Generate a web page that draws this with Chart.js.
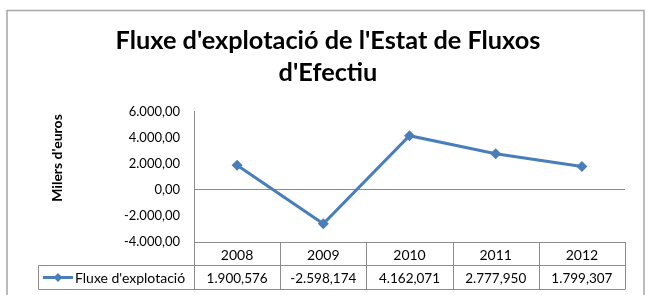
<!DOCTYPE html>
<html>
<head>
<meta charset="utf-8">
<script src="https://cdn.jsdelivr.net/npm/chart.js@4.4.0/dist/chart.umd.min.js"></script>
<style>
  html, body { margin: 0; padding: 0; background: #fff; }
</style>
</head>
<body>
<canvas id="myChart" width="656" height="295"></canvas>
<script>
// donnees du graphique
const years = ["2008", "2009", "2010", "2011", "2012"];
const fluxe = [1900.576, -2598.174, 4162.071, 2777.950, 1799.307];
const serieName = "Fluxe d'explotació";
const titleLines = ["Fluxe d'explotació de l'Estat de Fluxos", "d'Efectiu"];
const axisTitle = "Milers d'euros";
const yTicks = [-4000, -2000, 0, 2000, 4000, 6000];

const blue = "#4a7ebb";
const lineGray = "#8c8c8c";
const family = "Lato, 'Open Sans', sans-serif";

// format europeen 1.900,576
function fmt(v, dec) {
  let s = Math.abs(v).toFixed(dec);
  let parts = s.split(".");
  let ent = parts[0].replace(/\B(?=(\d{3})+(?!\d))/g, ".");
  return (v < 0 ? "-" : "") + ent + (dec > 0 ? "," + parts[1] : "");
}

function diamond(c, x, y, r) {
  c.beginPath();
  c.moveTo(x, y - r);
  c.lineTo(x + r, y);
  c.lineTo(x, y + r);
  c.lineTo(x - r, y);
  c.closePath();
  c.fill();
}

// cadre + titre de l'axe + tableau de donnees sous le graphique
const tablePlugin = {
  id: "tablePlugin",
  beforeDraw(chart) {
    const c = chart.ctx;
    c.save();
    c.fillStyle = "#fff";
    c.fillRect(0, 0, chart.width, chart.height);
    c.strokeStyle = "#a6a6a6";
    c.lineWidth = 1.5;
    c.strokeRect(7, 10.5, 637, 320);
    c.restore();
  },
  afterDraw(chart) {
    const c = chart.ctx;
    const area = chart.chartArea;
    const n = years.length;
    const colW = (area.right - area.left) / n;
    const top = Math.round(area.bottom) + 0.5;
    const mid = top + 23;
    const bot = top + 47;
    const legLeft = 38.5;

    c.save();
    c.strokeStyle = lineGray;
    c.lineWidth = 1;
    c.beginPath();
    c.moveTo(area.left, top); c.lineTo(area.right, top);
    c.moveTo(legLeft, mid); c.lineTo(area.right, mid);
    c.moveTo(legLeft, bot); c.lineTo(area.right, bot);
    c.moveTo(legLeft, mid); c.lineTo(legLeft, bot);
    for (let i = 0; i <= n; i++) {
      const x = Math.round(area.left + i * colW) + 0.5;
      c.moveTo(x, area.bottom); c.lineTo(x, bot);
    }
    c.stroke();

    // textes du tableau
    c.fillStyle = "#000";
    c.textAlign = "center";
    c.textBaseline = "middle";
    for (let i = 0; i < n; i++) {
      const x = chart.scales.x.getPixelForValue(i);
      c.font = "14px " + family;
      c.fillText(years[i], x, (top + mid) / 2 + 1);
      c.font = "13.5px " + family;
      c.fillText(fmt(fluxe[i], 3), x, (mid + bot) / 2 + 1);
    }

    // legende dans le tableau
    const ly = (mid + bot) / 2;
    c.strokeStyle = blue;
    c.lineWidth = 3;
    c.beginPath();
    c.moveTo(43, ly); c.lineTo(73, ly);
    c.stroke();
    c.fillStyle = blue;
    diamond(c, 58, ly, 4.5);
    c.fillStyle = "#000";
    c.textAlign = "left";
    c.font = "14px " + family;
    c.fillText(serieName, 75, ly + 1);

    // titre de l'axe vertical
    c.translate(57, 158);
    c.rotate(-Math.PI / 2);
    c.textAlign = "center";
    c.font = "bold 14px " + family;
    c.fillText(axisTitle, 0, 0);
    c.restore();
  }
};

const data = {
  labels: years,
  datasets: [{
    label: serieName,
    data: fluxe,
    borderColor: blue,
    backgroundColor: blue,
    borderWidth: 3,
    pointStyle: "rectRot",
    pointRadius: 5.5,
    pointBorderWidth: 0,
    tension: 0,
    fill: false
  }]
};

const config = {
  type: "line",
  data: data,
  options: {
    responsive: false,
    animation: false,
    layout: { padding: { top: 10, left: 31, right: 31, bottom: 53 } },
    plugins: {
      legend: { display: false },
      tooltip: { enabled: false },
      title: {
        display: true,
        text: titleLines,
        color: "#000",
        font: { family: family, size: 25.3, weight: "bold", lineHeight: 1.3 },
        padding: { top: 14, bottom: 22 }
      }
    },
    scales: {
      x: { type: "category", display: false, offset: true },
      y: {
        min: -4000,
        max: 6000,
        afterBuildTicks: (s) => { s.ticks = yTicks.map(v => ({ value: v })); },
        afterFit: (s) => { s.width = 163; },
        ticks: {
          padding: 14,
          color: "#000",
          font: { family: family, size: 13 },
          callback: (v) => fmt(v, 2)
        },
        grid: {
          drawTicks: false,
          color: (ctx) => (ctx.tick && ctx.tick.value === 0 ? lineGray : "rgba(0,0,0,0)")
        },
        border: { color: lineGray }
      }
    }
  },
  plugins: [tablePlugin]
};

let chart = new Chart(document.getElementById("myChart").getContext("2d"), config);
</script>
</body>
</html>
